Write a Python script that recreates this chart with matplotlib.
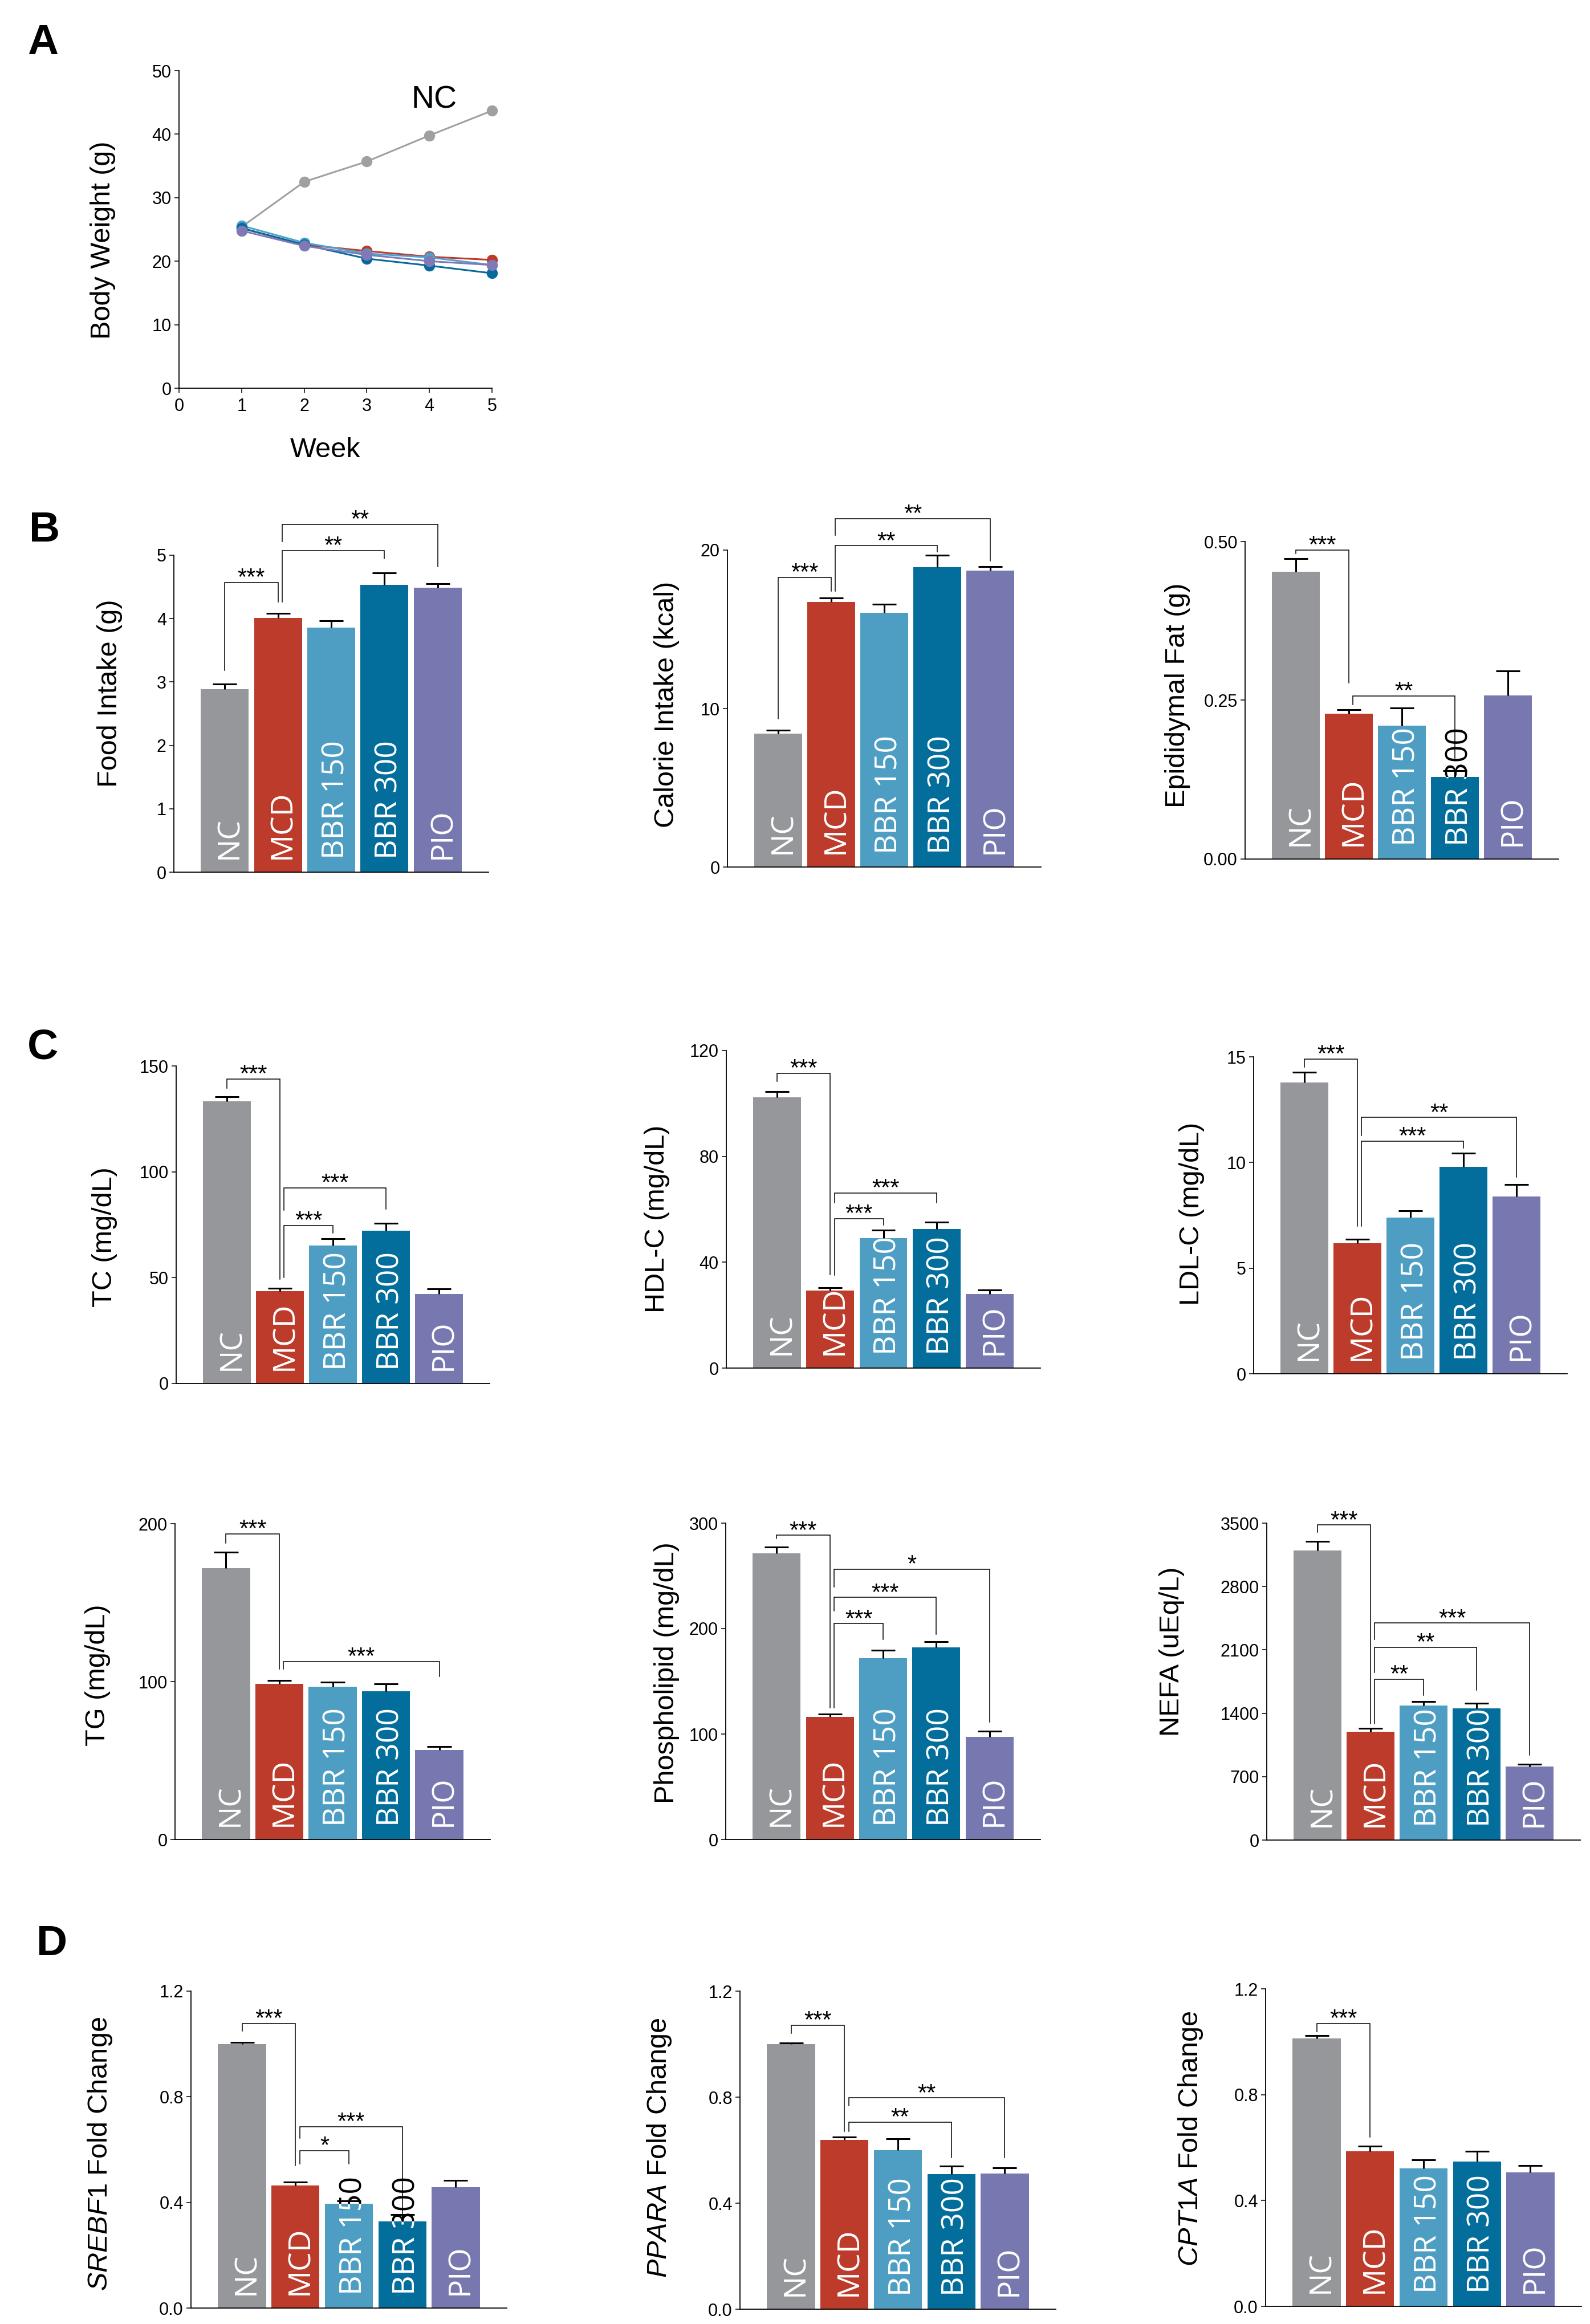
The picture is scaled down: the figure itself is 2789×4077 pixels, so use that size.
import matplotlib
matplotlib.use('Agg')
import matplotlib.pyplot as plt
from matplotlib.transforms import Bbox, TransformedBbox, ScaledTranslation

plt.rcParams['font.family'] = ['Liberation Sans', 'DejaVu Sans']
plt.rcParams['mathtext.fontset'] = 'custom'
plt.rcParams['mathtext.rm'] = 'Liberation Sans'
plt.rcParams['mathtext.it'] = 'Liberation Sans:italic'
plt.rcParams['mathtext.bf'] = 'Liberation Sans:bold'

# ---------------- data ----------------
groups = ['NC', 'MCD', 'BBR 150', 'BBR 300', 'PIO']

weeks = [1, 2, 3, 4, 5]
bw_nc = [25.4, 32.5, 35.7, 39.8, 43.7]
bw_mcd = [25.2, 22.6, 21.6, 20.7, 20.2]
bw_bbr150 = [25.6, 22.9, 21.2, 20.6, 19.4]
bw_bbr300 = [25.2, 22.6, 20.4, 19.3, 18.1]
bw_pio = [24.8, 22.4, 21.0, 20.0, 19.4]

food_mean = [2.89, 4.01, 3.86, 4.53, 4.49]
food_sem = [0.08, 0.07, 0.11, 0.19, 0.06]
food_sig = [(0, 1, '***', 4.57, 3.18, 4.26), (1, 3, '**', 5.07, 4.26, 4.95), (1, 4, '**', 5.49, 5.22, 4.82)]

calorie_mean = [8.40, 16.71, 16.06, 18.91, 18.71]
calorie_sem = [0.23, 0.27, 0.52, 0.77, 0.26]
calorie_sig = [(0, 1, '***', 18.27, 9.37, 17.4), (1, 3, '**', 20.27, 17.4, 19.89), (1, 4, '**', 21.99, 20.93, 19.33)]

fat_mean = [0.452, 0.2285, 0.210, 0.129, 0.258]
fat_sem = [0.021, 0.0065, 0.028, 0.010, 0.038]
fat_sig = [(0, 1, '***', 0.4868, 0.481, 0.2775), (1, 3, '**', 0.2566, 0.243, 0.159)]

tc_mean = [133.2, 43.6, 65.3, 72.2, 42.2]
tc_sem = [2.2, 1.3, 3.2, 3.4, 2.5]
tc_sig = [(0, 1, '***', 143.9, 139.5, 49.2), (1, 2, '***', 74.7, 50.0, 71.1), (1, 3, '***', 92.5, 81.9, 82.3)]

hdl_mean = [102.3, 29.4, 49.1, 52.5, 28.0]
hdl_sem = [2.2, 1.0, 3.0, 2.7, 1.6]
hdl_sig = [(0, 1, '***', 111.4, 108.3, 35.4), (1, 2, '***', 56.5, 35.2, 54.1), (1, 3, '***', 66.1, 62.4, 62.4)]

ldl_mean = [13.78, 6.19, 7.38, 9.80, 8.39]
ldl_sem = [0.49, 0.19, 0.33, 0.63, 0.58]
ldl_sig = [(0, 1, '***', 14.89, 14.51, 6.99), (1, 3, '***', 11.01, 6.99, 10.69), (1, 4, '**', 12.13, 11.29, 9.31)]

tg_mean = [172.0, 98.6, 96.7, 94.0, 56.5]
tg_sem = [10.0, 2.0, 3.0, 4.5, 2.5]
tg_sig = [(0, 1, '***', 193.4, 187.8, 108.0), (1, 4, '***', 112.7, 108.0, 103.3)]

pl_mean = [271.6, 116.1, 171.7, 182.0, 97.1]
pl_sem = [5.6, 2.7, 7.8, 5.8, 5.4]
pl_sig = [(0, 1, '***', 288.4, 285.2, 124.6), (1, 2, '***', 204.6, 124.6, 189.6),
          (1, 3, '***', 229.5, 216.5, 194.5), (1, 4, '*', 256.1, 239.3, 111.6)]

nefa_mean = [3200, 1196, 1483, 1454, 812]
nefa_sem = [99, 37, 47, 55, 24]
nefa_sig = [(0, 1, '***', 3479, 3401, 1287), (1, 2, '**', 1775, 1287, 1600),
            (1, 3, '**', 2127, 1848, 1657), (1, 4, '***', 2396, 2213, 940)]

srebf_mean = [1.0, 0.464, 0.396, 0.329, 0.457]
srebf_sem = [0.005, 0.012, 0.010, 0.026, 0.026]
srebf_sig = [(0, 1, '***', 1.078, 1.048, 0.539), (1, 2, '*', 0.595, 0.547, 0.547), (1, 3, '***', 0.687, 0.644, 0.354)]

ppara_mean = [1.0, 0.639, 0.599, 0.510, 0.512]
ppara_sem = [0.005, 0.010, 0.043, 0.029, 0.021]
ppara_sig = [(0, 1, '***', 1.072, 1.041, 0.672), (1, 3, '**', 0.705, 0.672, 0.572), (1, 4, '**', 0.797, 0.767, 0.572)]

cpt_mean = [1.013, 0.587, 0.521, 0.547, 0.506]
cpt_sem = [0.010, 0.018, 0.033, 0.040, 0.026]
cpt_sig = [(0, 1, '***', 1.069, 1.039, 0.639)]

food_ticks = [0, 1, 2, 3, 4, 5]
calorie_ticks = [0, 10, 20]
fat_ticks = [0, 0.25, 0.5]
fat_ticklabels = ['0.00', '0.25', '0.50']
tc_ticks = [0, 50, 100, 150]
hdl_ticks = [0, 40, 80, 120]
ldl_ticks = [0, 5, 10, 15]
tg_ticks = [0, 100, 200]
pl_ticks = [0, 100, 200, 300]
nefa_ticks = [0, 700, 1400, 2100, 2800, 3500]
fold_ticks = [0, 0.4, 0.8, 1.2]
fold_ticklabels = ['0.0', '0.4', '0.8', '1.2']

# ---------------- style ----------------
bar_colors = ['#96979b', '#bc3b2a', '#4e9ec4', '#036e9b', '#7878b0']
line_colors = ['#a0a0a0', '#c0392b', '#4aa3cf', '#076a9a', '#8079b8']

W, H = 2789, 4077
DPI = 100
fig = plt.figure(figsize=(W / DPI, H / DPI), dpi=DPI)
fig.patch.set_facecolor('white')

TICK_FS = 22
LABEL_FS = 35
STAR_FS = 30
BAR_FS = 38.5
LABEL_FONT = ['Open Sans', 'DejaVu Sans']


def px_axes(l, r, t, b):
    return fig.add_axes([l / W, 1 - b / H, (r - l) / W, (b - t) / H])


def style_axes(ax):
    for s in ['top', 'right']:
        ax.spines[s].set_visible(False)
    for s in ['left', 'bottom']:
        ax.spines[s].set_linewidth(1.3)
    ax.tick_params(axis='both', direction='out', length=6, width=1.1,
                   labelsize=TICK_FS, pad=3.5)


def bar_panel(box, means, sems, ticks, ticklabels, ylabel, lab_xy, sig, overflow=False):
    ax = px_axes(*box)
    style_axes(ax)
    x = list(range(len(groups)))
    ax.bar(x, means, width=0.9, color=bar_colors, zorder=2)
    top = [m + s for m, s in zip(means, sems)]
    ax.vlines(x, means, top, color='black', lw=2.2, zorder=3)
    ax.hlines(top, [xi - 0.225 for xi in x], [xi + 0.225 for xi in x],
              color='black', lw=2.2, zorder=3)
    ax.set_xlim(-0.957, 4.957)
    ax.set_ylim(ticks[0], ticks[-1])
    ax.set_xticks([])
    ax.set_yticks(ticks)
    if ticklabels is not None:
        ax.set_yticklabels(ticklabels)
    else:
        ax.set_yticklabels([str(t) for t in ticks])
    ax.set_ylabel(ylabel, fontsize=LABEL_FS)
    ax.yaxis.set_label_coords(*lab_xy)

    trans = ax.transData + ScaledTranslation(6 / 72, 16.5 / 72, fig.dpi_scale_trans)
    for xi, g, m in zip(x, groups, means):
        t = ax.text(xi, 0, g, rotation=90, ha='center', va='bottom', color='white',
                    fontsize=BAR_FS, family=LABEL_FONT, fontweight='medium',
                    transform=trans, clip_on=True, zorder=2.5)
        t.set_clip_path(None)
        t.set_clip_box(TransformedBbox(Bbox([[xi - 0.45, 0], [xi + 0.45, m]]), ax.transData))
        if overflow:
            t2 = ax.text(xi, 0, g, rotation=90, ha='center', va='bottom', color='black',
                         fontsize=BAR_FS, family=LABEL_FONT, fontweight='medium',
                         transform=trans, clip_on=True, zorder=2.5)
            t2.set_clip_path(None)
            t2.set_clip_box(TransformedBbox(Bbox([[xi - 0.6, m], [xi + 0.6, ticks[-1] * 3]]),
                                            ax.transData))

    ends_right = [s[1] for s in sig]
    for (i, j, lab, yline, yl, yr) in sig:
        xi = i + (0.08 if i in ends_right else 0)
        ax.plot([xi, xi, j, j], [yl, yline, yline, yr], color='black', lw=1.1,
                clip_on=False, zorder=4, solid_joinstyle='miter')
        ax.annotate(lab, xy=((xi + j) / 2, yline), xytext=(0, -3), textcoords='offset points',
                    ha='center', va='baseline', fontsize=STAR_FS, annotation_clip=False)
    return ax


# ---------------- Panel A ----------------
axA = px_axes(314, 863, 124, 681)
style_axes(axA)
for ys, c in zip([bw_nc, bw_mcd, bw_bbr150, bw_bbr300, bw_pio], line_colors):
    axA.plot(weeks, ys, '-o', color=c, lw=2.2, ms=13, mec=c, clip_on=False, zorder=3)
axA.set_xlim(0, 5)
axA.set_ylim(0, 50)
axA.set_xticks([0, 1, 2, 3, 4, 5])
axA.set_yticks([0, 10, 20, 30, 40, 50])
axA.tick_params(axis='x', pad=6)
axA.set_ylabel('Body Weight (g)', fontsize=LABEL_FS)
axA.yaxis.set_label_coords(-0.202, 0.467)
axA.set_xlabel('Week', fontsize=LABEL_FS)
axA.xaxis.set_label_coords(0.468, -0.154)
axA.text(4.08, 45.4, 'NC', ha='center', va='center', fontsize=40)

# ---------------- Panel B ----------------
bar_panel((305, 857, 974, 1530), food_mean, food_sem, food_ticks, None,
          'Food Intake (g)', (-0.163, 0.565), food_sig)
bar_panel((1276, 1826, 965, 1521), calorie_mean, calorie_sem, calorie_ticks, None,
          'Calorie Intake (kcal)', (-0.1526, 0.513), calorie_sig)
bar_panel((2184, 2734, 950, 1507), fat_mean, fat_sem, fat_ticks, fat_ticklabels,
          'Epididymal Fat (g)', (-0.1745, 0.515), fat_sig, overflow=True)

# ---------------- Panel C ----------------
bar_panel((309, 859, 1870, 2427), tc_mean, tc_sem, tc_ticks, None,
          'TC (mg/dL)', (-0.187, 0.461), tc_sig)
bar_panel((1274, 1825, 1843, 2400), hdl_mean, hdl_sem, hdl_ticks, None,
          'HDL-C (mg/dL)', (-0.18, 0.47), hdl_sig)
bar_panel((2199, 2749, 1854, 2410), ldl_mean, ldl_sem, ldl_ticks, None,
          'LDL-C (mg/dL)', (-0.156, 0.505), ldl_sig)
bar_panel((307, 860, 2673, 3227), tg_mean, tg_sem, tg_ticks, None,
          'TG (mg/dL)', (-0.204, 0.52), tg_sig)
bar_panel((1273, 1825, 2672, 3227), pl_mean, pl_sem, pl_ticks, None,
          'Phospholipid (mg/dL)', (-0.147, 0.526), pl_sig)
bar_panel((2222, 2772, 2672, 3228), nefa_mean, nefa_sem, nefa_ticks, None,
          'NEFA (uEq/L)', (-0.262, 0.595), nefa_sig)

# ---------------- Panel D ----------------
bar_panel((335, 889, 3493, 4049), srebf_mean, srebf_sem, fold_ticks, fold_ticklabels,
          r'$\mathit{SREBF1}$ Fold Change', (-0.244, 0.487), srebf_sig, overflow=True)
bar_panel((1298, 1852, 3493, 4051), ppara_mean, ppara_sem, fold_ticks, fold_ticklabels,
          r'$\mathit{PPARA}$ Fold Change', (-0.211, 0.507), ppara_sig)
bar_panel((2220, 2774, 3489, 4046), cpt_mean, cpt_sem, fold_ticks, fold_ticklabels,
          r'$\mathit{CPT1A}$ Fold Change', (-0.193, 0.528), cpt_sig)

# ---------------- panel letters ----------------
for letter, xp, yp in [('A', 48, 95), ('B', 51, 950), ('C', 48, 1857), ('D', 64, 3430)]:
    fig.text(xp / W, 1 - yp / H, letter, ha='left', va='baseline', fontsize=54,
             fontweight='bold')

fig.savefig('out.png', dpi=DPI, facecolor='white')
